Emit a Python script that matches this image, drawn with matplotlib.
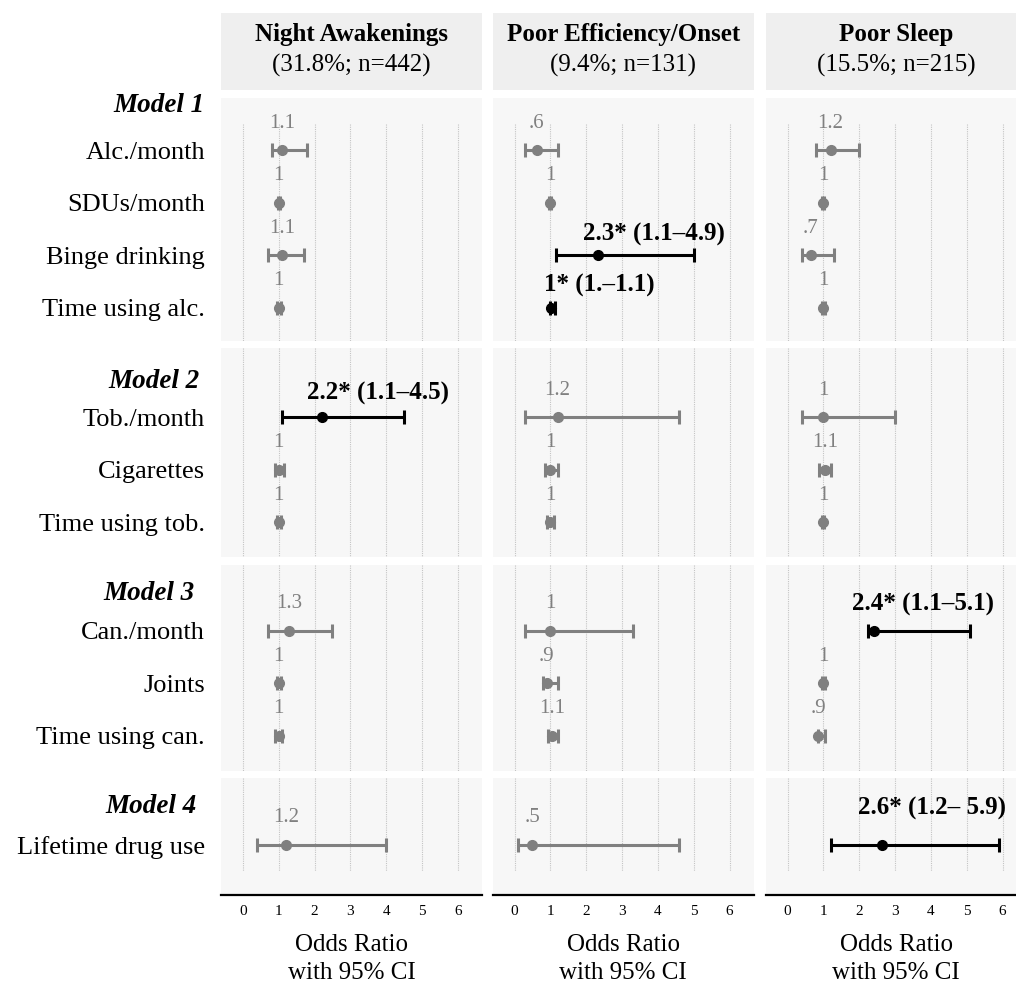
import matplotlib.pyplot as plt

plt.rcParams['font.family'] = ['Liberation Serif', 'DejaVu Serif']

# outcomes (columns) and predictor blocks (rows)
outcomes = ['Night Awakenings', 'Poor Efficiency/Onset', 'Poor Sleep']
outcome_stats = ['(31.8%; n=442)', '(9.4%; n=131)', '(15.5%; n=215)']
models = ['Model 1', 'Model 2', 'Model 3', 'Model 4']
predictors = ['Alc./month', 'SDUs/month', 'Binge drinking', 'Time using alc.',
              'Tob./month', 'Cigarettes', 'Time using tob.',
              'Can./month', 'Joints', 'Time using can.',
              'Lifetime drug use']
model_of = [0, 0, 0, 0, 1, 1, 1, 2, 2, 2, 3]

# odds ratios and drawn CI bounds
or_night = [1.1, 1.0, 1.1, 1.0, 2.2, 1.0, 1.0, 1.3, 1.0, 1.0, 1.2]
lo_night = [0.8, 0.97, 0.7, 0.94, 1.1, 0.9, 0.95, 0.7, 0.95, 0.9, 0.4]
hi_night = [1.8, 1.03, 1.7, 1.06, 4.5, 1.15, 1.05, 2.5, 1.05, 1.1, 4.0]
lab_night = ['1.1', '1', '1.1', '1', '2.2* (1.1–4.5)', '1', '1', '1.3', '1', '1', '1.2']
sig_night = [0, 0, 0, 0, 1, 0, 0, 0, 0, 0, 0]

or_onset = [0.62, 1.0, 2.32, 1.02, 1.2, 1.0, 1.0, 1.0, 0.9, 1.05, 0.5]
lo_onset = [0.3, 0.97, 1.15, 1.0, 0.3, 0.85, 0.9, 0.3, 0.78, 0.92, 0.1]
hi_onset = [1.2, 1.03, 5.0, 1.12, 4.6, 1.2, 1.1, 3.3, 1.2, 1.2, 4.6]
lab_onset = ['.6', '1', '2.3* (1.1–4.9)', '1* (1.–1.1)', '1.2', '1', '1', '1', '.9', '1.1', '.5']
sig_onset = [0, 0, 1, 1, 0, 0, 0, 0, 0, 0, 0]

or_sleep = [1.2, 1.0, 0.65, 1.0, 1.0, 1.05, 1.0, 2.42, 1.0, 0.86, 2.62]
lo_sleep = [0.8, 0.97, 0.4, 0.96, 0.4, 0.88, 0.97, 2.25, 0.95, 0.85, 1.2]
hi_sleep = [2.0, 1.03, 1.3, 1.04, 3.0, 1.2, 1.03, 5.1, 1.05, 1.05, 5.9]
lab_sleep = ['1.2', '1', '.7', '1', '1', '1.1', '1', '2.4* (1.1–5.1)', '1', '.9', '2.6* (1.2– 5.9)']
sig_sleep = [0, 0, 0, 0, 0, 0, 0, 1, 0, 0, 1]

x_ticks = [0, 1, 2, 3, 4, 5, 6]

ORS = [or_night, or_onset, or_sleep]
LOS = [lo_night, lo_onset, lo_sleep]
HIS = [hi_night, hi_onset, hi_sleep]
LABS = [lab_night, lab_onset, lab_sleep]
SIGS = [sig_night, sig_onset, sig_sleep]

# layout in pixels
W, H = 1016, 982
col_left = [221, 492.7, 765.7]
col_w = 261
row_top = [98.3, 348.3, 565, 778.3]
row_bot = [340.7, 556.7, 770.7, 895]
ytop = [0.015, -0.318, -0.257, -0.27]
px_per_item = 52.5
heading_pos = [(205, 105), (200, 381.7), (195, 593.3), (197, 806.7)]
# nudges (px) for the bold significant labels
nudge = {(0, 4): (-15, 24), (1, 2): (-15, 21), (1, 3): (-7, 22),
         (2, 7): (-22, 27), (2, 10): (-24, 37)}

GRAY = '#808080'
PANEL_BG = '#f7f7f7'
HEAD_BG = '#efefef'


def fig_rect(x0, y0, x1, y1):
    return [x0 / W, 1 - y1 / H, (x1 - x0) / W, (y1 - y0) / H]


fig = plt.figure(figsize=(W / 100, H / 100), dpi=100)

# column headers
for c in range(3):
    hax = fig.add_axes(fig_rect(col_left[c], 12.7, col_left[c] + col_w, 90))
    hax.set_facecolor(HEAD_BG)
    hax.set_xticks([])
    hax.set_yticks([])
    for s in hax.spines.values():
        s.set_visible(False)
    hax.text(0.5, 0.712, outcomes[c], ha='center', va='center',
             fontsize=18, fontweight='bold', transform=hax.transAxes)
    hax.text(0.5, 0.323, outcome_stats[c], ha='center', va='center',
             fontsize=18, transform=hax.transAxes)

for r in range(4):
    idx = [i for i, m in enumerate(model_of) if m == r]
    ybot = ytop[r] + (row_bot[r] - row_top[r]) / px_per_item
    g0 = 0.5 if r == 0 else ytop[r]
    g1 = len(idx) + 0.5 if r == 3 else ybot
    for c in range(3):
        ax = fig.add_axes(fig_rect(col_left[c], row_top[r], col_left[c] + col_w, row_bot[r]))
        ax.set_facecolor(PANEL_BG)
        ax.set_xlim(-0.61, 6.67)
        ax.set_ylim(ybot, ytop[r])
        ax.vlines(x_ticks, g0, g1, colors='#c4c4c4', linestyles=(0, (1, 1)),
                  linewidth=0.8, zorder=0)
        for s in ax.spines.values():
            s.set_visible(False)

        for k, i in enumerate(idx):
            y = k + 1
            o, lo, hi = ORS[c][i], LOS[c][i], HIS[c][i]
            sig = SIGS[c][i]
            color = 'black' if sig else GRAY
            ax.errorbar([o], [y], xerr=[[o - lo], [hi - o]], fmt='o', color=color,
                        ms=7, capsize=5, capthick=2.2, elinewidth=2.2, zorder=3)
            if sig:
                dx, dy = nudge.get((c, i), (-15, 23))
                ax.annotate(LABS[c][i], (o, y), xytext=(dx, dy), textcoords='offset pixels',
                            ha='left', va='center', fontsize=18, fontweight='bold',
                            color='black')
            else:
                ax.annotate(LABS[c][i], (o, y), xytext=(0, 27), textcoords='offset pixels',
                            ha='center', va='center', fontsize=15, color=GRAY)

        if c == 0:
            ax.set_yticks(range(1, len(idx) + 1))
            ax.set_yticklabels([predictors[i] for i in idx], fontsize=19)
            ax.tick_params(axis='y', length=0, pad=11.5)
        else:
            ax.set_yticks([])

        if r == 3:
            ax.spines['bottom'].set_visible(True)
            ax.spines['bottom'].set_color('black')
            ax.spines['bottom'].set_linewidth(1.6)
            ax.set_xticks(x_ticks)
            ax.set_xticklabels([str(t) for t in x_ticks], fontsize=11)
            ax.tick_params(axis='x', length=0, pad=7)
        else:
            ax.set_xticks([])

# model headings
for r in range(4):
    x, y = heading_pos[r]
    fig.text(x / W, 1 - y / H, models[r], ha='right', va='center', fontsize=19.5,
             fontweight='bold', fontstyle='italic')

# x axis titles
for c in range(3):
    cx = (col_left[c] + col_w / 2) / W
    fig.text(cx, 1 - 945 / H, 'Odds Ratio', ha='center', va='center', fontsize=18)
    fig.text(cx, 1 - 973 / H, 'with 95% CI', ha='center', va='center', fontsize=18)

fig.savefig('out.png', dpi=100)
plt.close(fig)
